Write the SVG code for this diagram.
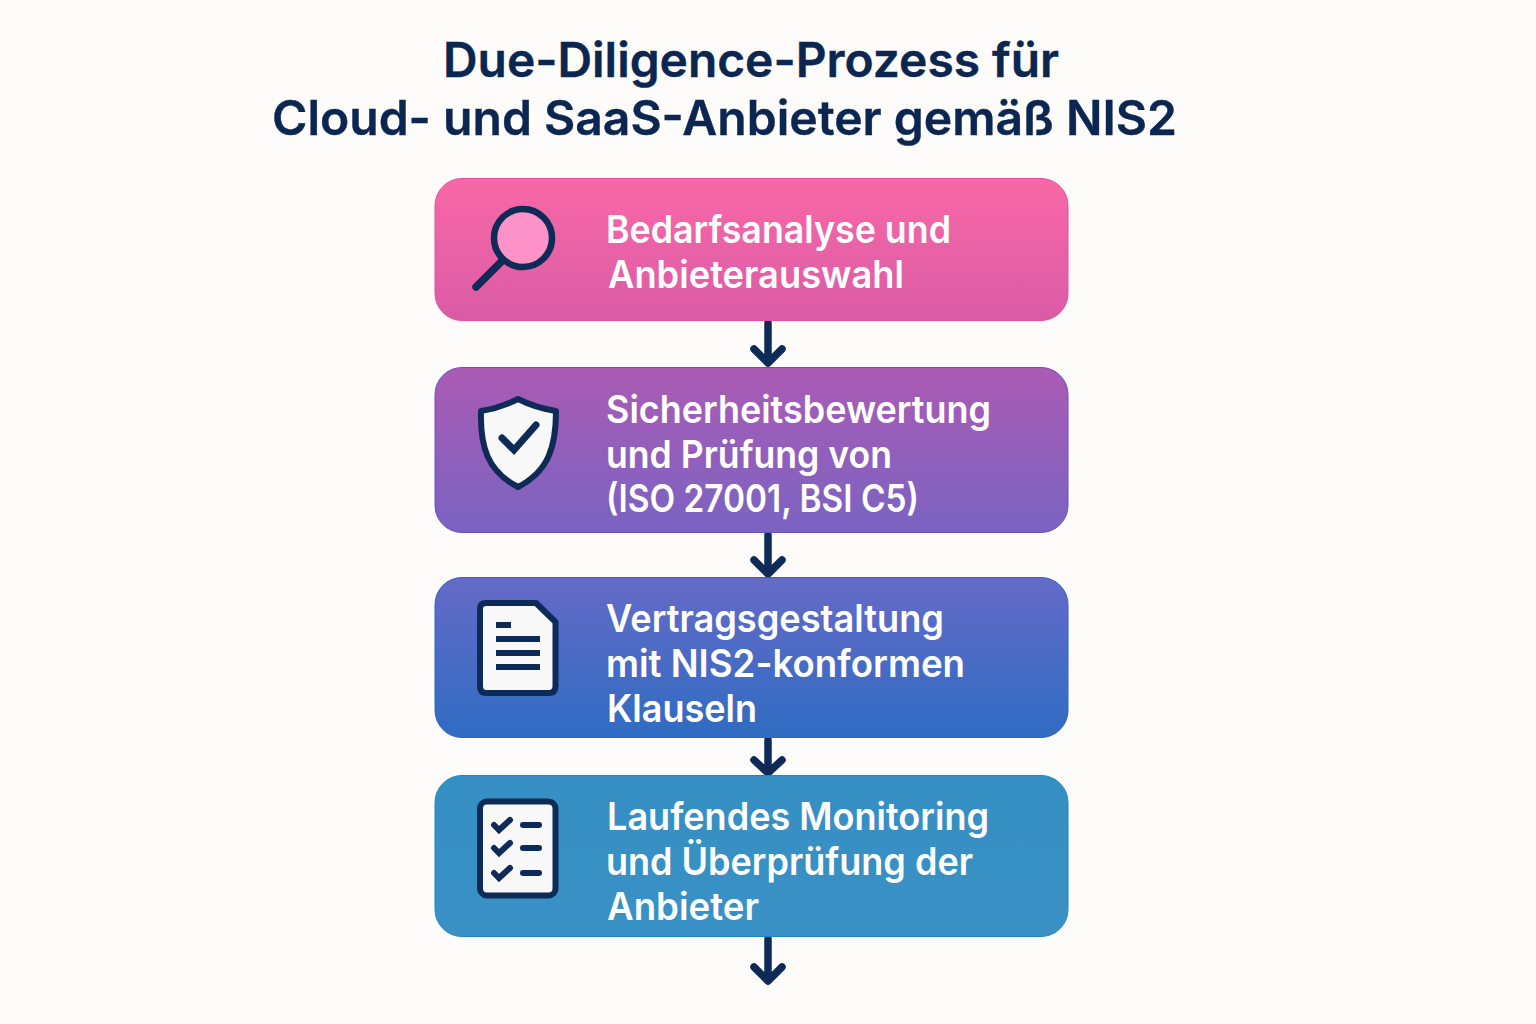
<svg xmlns="http://www.w3.org/2000/svg" width="1536" height="1024" viewBox="0 0 1536 1024">
<style>
.t{font-family:Inter,"Liberation Sans",sans-serif;font-weight:600;font-size:38px;fill:#fff}
.h{font-family:Inter,"Liberation Sans",sans-serif;font-weight:600;font-size:48px;fill:#0b2650;stroke:#0b2650;stroke-width:.4}
.ic{stroke:#0d2b56;stroke-width:6;fill:#f8f8f8;stroke-linejoin:round;stroke-linecap:round}
.ln{stroke:#0d2b56;stroke-width:6;fill:none}
.ck{stroke:#0d2b56;stroke-width:6;fill:none;stroke-linecap:round;stroke-linejoin:miter}
.ar{stroke:#0d2b56;stroke-width:7.500;fill:none;stroke-linecap:round;stroke-linejoin:round}
</style>
<defs>
<linearGradient id="g1" x1="0" y1="0" x2="0" y2="1"><stop offset="0" stop-color="#f968a6"/><stop offset="1" stop-color="#da5ca6"/></linearGradient>
<linearGradient id="g2" x1="0" y1="0" x2="0" y2="1"><stop offset="0" stop-color="#ab5bb4"/><stop offset="1" stop-color="#7a63c2"/></linearGradient>
<linearGradient id="g3" x1="0" y1="0" x2="0" y2="1"><stop offset="0" stop-color="#656ac7"/><stop offset="1" stop-color="#2f6cc2"/></linearGradient>
<linearGradient id="g4" x1="0" y1="0" x2="0" y2="1"><stop offset="0" stop-color="#368fc2"/><stop offset="1" stop-color="#3991c6"/></linearGradient>
</defs>
<rect width="1536" height="1024" fill="#fdfcfa"/>
<g id="title">
<text class="h" x="443" y="77" textLength="616" lengthAdjust="spacingAndGlyphs">Due-Diligence-Prozess für</text>
<text class="h" x="272" y="135" textLength="905" lengthAdjust="spacingAndGlyphs">Cloud- und SaaS-Anbieter gemäß NIS2</text>
</g>
<g id="connectors">
<path class="ar" d="M768 323V362M754 349L768 363L782 349"/>
<path class="ar" d="M768 535V573M754 560L768 574L782 560"/>
<path class="ar" d="M768 740V772M754 760L768 773L782 760"/>
<path class="ar" d="M768 939V980M754 967L768 981L782 967"/>
</g>
<g id="node1">
<rect x="435" y="178.500" width="633" height="142" rx="27" fill="url(#g1)" stroke="#e64fa0" stroke-width="1"/>
<path d="M502 261L476 287" stroke="#0d2b56" stroke-width="7.500" stroke-linecap="round"/>
<circle cx="523" cy="238" r="29" fill="#fd92c8" stroke="#0d2b56" stroke-width="6.500"/>
<text class="t" x="606" y="243" textLength="345" lengthAdjust="spacingAndGlyphs">Bedarfsanalyse und</text>
<text class="t" x="608" y="288" textLength="296" lengthAdjust="spacingAndGlyphs">Anbieterauswahl</text>
</g>
<g id="node2">
<rect x="435" y="367.500" width="633" height="165" rx="27" fill="url(#g2)" stroke="#6a4fc0" stroke-width="1"/>
<path class="ic" d="M518 399C504 406 493 409 481 411C480 446 487 471 518 487C549 471 556 446 556 411C543 409 532 406 518 399Z"/>
<path class="ck" style="stroke-width:7" d="M502 438L514 450L536 425"/>
<text class="t" x="606" y="423" textLength="385" lengthAdjust="spacingAndGlyphs">Sicherheitsbewertung</text>
<text class="t" x="606" y="468" textLength="286" lengthAdjust="spacingAndGlyphs">und Prüfung von</text>
<text class="t" x="606" y="512" textLength="313" lengthAdjust="spacingAndGlyphs">(ISO 27001, BSI C5)</text>
</g>
<g id="node3">
<rect x="435" y="577.500" width="633" height="160" rx="27" fill="url(#g3)" stroke="#2e62c8" stroke-width="1"/>
<path class="ic" d="M486 603H536L555.500 622V686Q555.500 693 549 693H486Q480 693 480 686V609Q480 603 486 603Z"/>
<path class="ln" d="M496 625H511M496 639H540M496 653H540M496 667H540"/>
<text class="t" x="606" y="632" textLength="338" lengthAdjust="spacingAndGlyphs">Vertragsgestaltung</text>
<text class="t" x="606" y="677" textLength="359" lengthAdjust="spacingAndGlyphs">mit NIS2-konformen</text>
<text class="t" x="607" y="722" textLength="150" lengthAdjust="spacingAndGlyphs">Klauseln</text>
</g>
<g id="node4">
<rect x="435" y="775.500" width="633" height="161" rx="27" fill="url(#g4)" stroke="#1f86c4" stroke-width="1"/>
<rect class="ic" x="480" y="801.500" width="75.500" height="94" rx="7"/>
<path class="ck" d="M494 825L499 830L510 820M494 848L499 853L510 843M494 873L499 878L510 868"/>
<path class="ln" style="stroke-linecap:round" d="M523 825H539M523 848H539M523 873H539"/>
<text class="t" x="607" y="830" textLength="382" lengthAdjust="spacingAndGlyphs">Laufendes Monitoring</text>
<text class="t" x="606" y="875" textLength="367" lengthAdjust="spacingAndGlyphs">und Überprüfung der</text>
<text class="t" x="607" y="920" textLength="152" lengthAdjust="spacingAndGlyphs">Anbieter</text>
</g>
</svg>
